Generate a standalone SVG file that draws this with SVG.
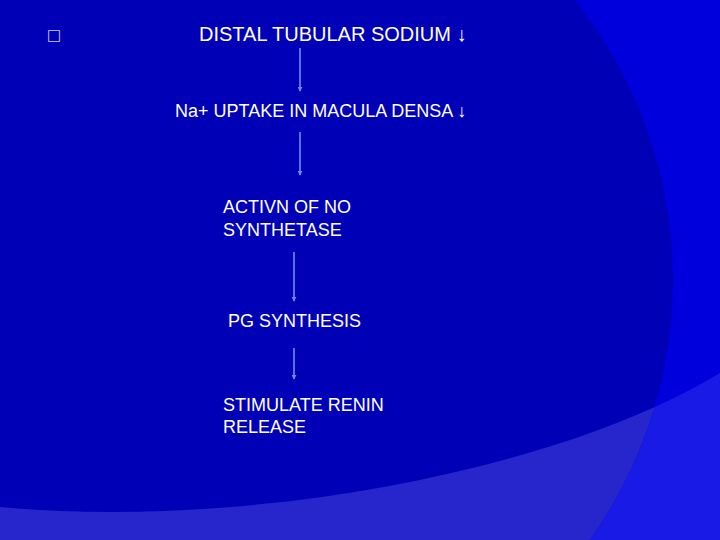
<svg xmlns="http://www.w3.org/2000/svg" width="720" height="540" viewBox="0 0 720 540">
  <style>
    .t { font-family: "Liberation Sans", Arial, sans-serif; fill: #ffffff; }
    .conn { stroke: #6f8cff; stroke-width: 1.6; fill: none; marker-end: url(#ah); }
  </style>
  <defs>
    <marker id="ah" viewBox="0 0 6 6" refX="5" refY="3" markerWidth="5" markerHeight="5" markerUnits="userSpaceOnUse" orient="auto">
      <path d="M0,0 L6,3 L0,6 Z" fill="#6f8cff"/>
    </marker>
    <clipPath id="circ"><circle cx="225" cy="280" r="448"/></clipPath>
    <path id="band" d="M0,507 C250,530 560,470 720,373 L720,540 L0,540 Z"/>
  </defs>

  <g id="background">
    <rect width="720" height="540" fill="#0000dc"/>
    <use href="#band" fill="#1a1ae6"/>
    <circle cx="225" cy="280" r="448" fill="#0000b6"/>
    <use href="#band" fill="#2626cc" clip-path="url(#circ)"/>
  </g>

  <g id="bullet">
    <text class="t" x="47" y="40" font-size="15" style="font-family: 'DejaVu Sans', sans-serif; fill: #d0d0f0;">□</text>
  </g>

  <g id="connectors">
    <line class="conn" x1="300" y1="48" x2="300" y2="91"/>
    <line class="conn" x1="300" y1="132" x2="300" y2="175"/>
    <line class="conn" x1="294" y1="252" x2="294" y2="301"/>
    <line class="conn" x1="294" y1="348" x2="294" y2="379"/>
  </g>

  <g id="node1">
    <text class="t" x="199" y="41" font-size="20">DISTAL TUBULAR SODIUM ↓</text>
  </g>
  <g id="node2">
    <text class="t" x="175" y="117" font-size="18">Na+ UPTAKE IN MACULA DENSA ↓</text>
  </g>
  <g id="node3">
    <text class="t" x="223" y="213" font-size="18">ACTIVN OF NO</text>
    <text class="t" x="223" y="236" font-size="18">SYNTHETASE</text>
  </g>
  <g id="node4">
    <text class="t" x="228" y="327" font-size="18">PG SYNTHESIS</text>
  </g>
  <g id="node5">
    <text class="t" x="223" y="411" font-size="18">STIMULATE RENIN</text>
    <text class="t" x="223" y="433" font-size="18">RELEASE</text>
  </g>
</svg>
